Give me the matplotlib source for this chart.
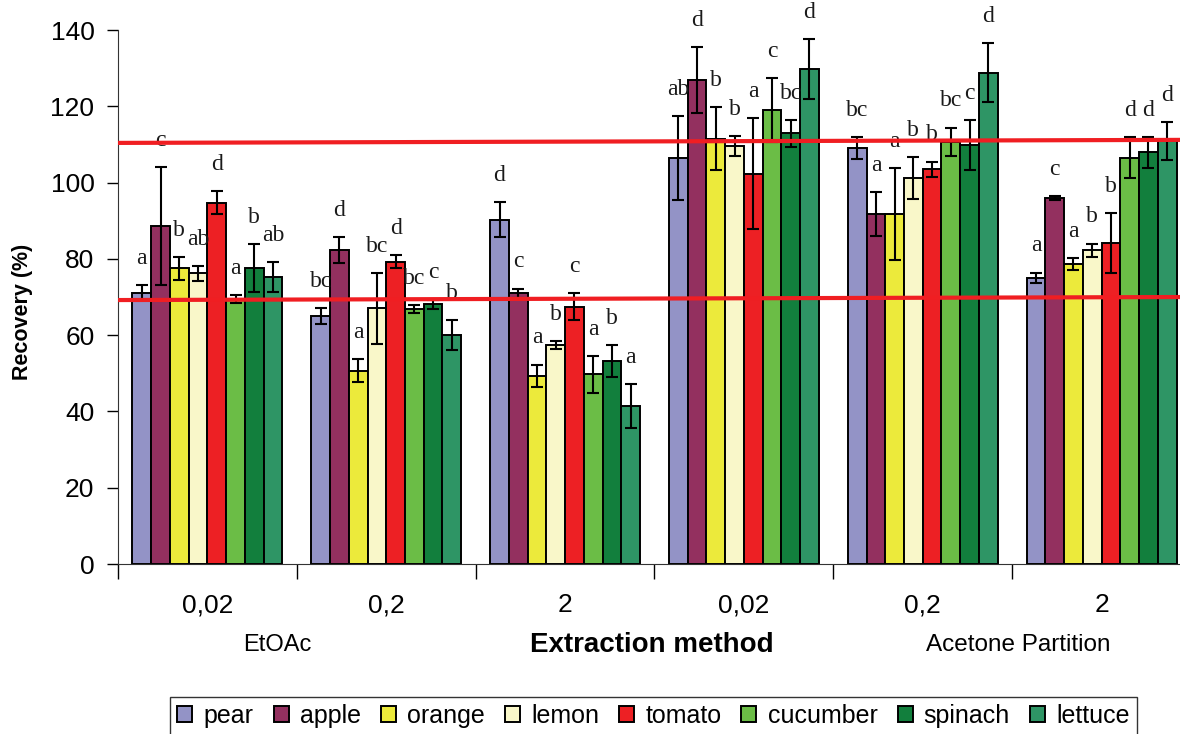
import matplotlib
matplotlib.use('Agg')
import matplotlib.pyplot as plt
from matplotlib.transforms import blended_transform_factory
from matplotlib.patches import Patch
import numpy as np

concentrations = ['0,02', '0,2', '2', '0,02', '0,2', '2']
methods = ['EtOAc', 'Extraction method', 'Acetone Partition']
samples = ['pear', 'apple', 'orange', 'lemon', 'tomato', 'cucumber', 'spinach', 'lettuce']

pear = [71.1, 65.0, 90.2, 106.5, 109.0, 75.1]
apple = [88.6, 82.3, 71.0, 126.9, 91.8, 95.9]
orange = [77.5, 50.7, 49.3, 111.5, 91.8, 78.6]
lemon = [76.2, 67.0, 57.4, 109.6, 101.1, 82.3]
tomato = [94.7, 79.3, 67.5, 102.3, 103.5, 84.1]
cucumber = [69.4, 66.9, 49.7, 119.0, 110.7, 106.5]
spinach = [77.5, 68.1, 53.2, 112.9, 109.9, 107.9]
lettuce = [75.2, 60.1, 41.4, 129.7, 128.8, 110.9]

pear_err = [2.0, 2.0, 4.6, 11.0, 2.9, 1.3]
apple_err = [15.4, 3.3, 1.2, 8.6, 5.8, 0.5]
orange_err = [3.0, 3.0, 3.0, 8.3, 12.0, 1.5]
lemon_err = [2.0, 9.3, 1.0, 2.6, 5.5, 1.7]
tomato_err = [3.0, 1.7, 3.5, 14.6, 2.0, 7.8]
cucumber_err = [1.0, 1.0, 4.8, 8.3, 3.7, 5.4]
spinach_err = [6.3, 1.2, 4.2, 3.5, 6.5, 4.0]
lettuce_err = [4.0, 3.9, 5.8, 7.9, 7.7, 4.9]

pear_sig = ['a', 'bc', 'd', 'ab', 'bc', 'a']
apple_sig = ['c', 'd', 'c', 'd', 'a', 'c']
orange_sig = ['b', 'a', 'a', 'b', 'a', 'a']
lemon_sig = ['ab', 'bc', 'b', 'b', 'b', 'b']
tomato_sig = ['d', 'd', 'c', 'a', 'b', 'b']
cucumber_sig = ['a', 'bc', 'a', 'c', 'bc', 'd']
spinach_sig = ['b', 'c', 'b', 'bc', 'c', 'd']
lettuce_sig = ['ab', 'b', 'a', 'd', 'd', 'd']

upper_limit = [110.4, 111.2]
lower_limit = [69.2, 70.0]

values = [pear, apple, orange, lemon, tomato, cucumber, spinach, lettuce]
errors = [pear_err, apple_err, orange_err, lemon_err, tomato_err, cucumber_err, spinach_err, lettuce_err]
sigs = [pear_sig, apple_sig, orange_sig, lemon_sig, tomato_sig, cucumber_sig, spinach_sig, lettuce_sig]
colors = ['#9393c6', '#93305f', '#ecea3b', '#f9f7c9', '#ed2024', '#6bbd46', '#127f3d', '#2e9565']

sans = ['Liberation Sans', 'DejaVu Sans']
serif = ['Liberation Serif', 'DejaVu Serif']

W, H = 1180, 734
fig = plt.figure(figsize=(W / 100, H / 100), dpi=100)
ax = fig.add_axes([118 / W, (H - 564) / H, (1191 - 118) / W, 534 / H])

x = np.arange(len(concentrations))
n = len(samples)
bw = 0.838 / n
for i in range(n):
    xi = x + (i - (n - 1) / 2) * bw
    ax.bar(xi, values[i], bw, color=colors[i], edgecolor='black', linewidth=1.4, zorder=2)
    ax.errorbar(xi, values[i], yerr=errors[i], fmt='none', ecolor='black',
                elinewidth=1.5, capsize=4.6, capthick=1.5, zorder=3)
    for j in range(len(x)):
        ax.text(xi[j], values[i][j] + errors[i][j] + 7.0, sigs[i][j], ha='center', va='center',
                fontsize=17, family=serif, color='#1a1a1a', zorder=4)

ax.plot([-0.5, 5.5], upper_limit, color='#f01e22', linewidth=3, zorder=5, solid_capstyle='butt')
ax.plot([-0.5, 5.5], lower_limit, color='#f01e22', linewidth=3, zorder=5, solid_capstyle='butt')

ax.set_xlim(-0.5, 5.5)
ax.set_ylim(0, 140)
ax.set_yticks(np.arange(0, 141, 20))
ax.tick_params(axis='y', direction='out', length=8, width=1, labelsize=19, pad=9)
for lab in ax.get_yticklabels():
    lab.set_family(sans)
ax.set_xticks(np.arange(-0.5, 5.6, 1.0))
ax.set_xticklabels([])
ax.tick_params(axis='x', direction='out', length=11, width=1)
for s in ['top', 'right']:
    ax.spines[s].set_visible(False)
ax.spines['left'].set_color('#333333')
ax.spines['bottom'].set_color('#333333')
ax.set_ylabel('Recovery (%)', fontsize=15.5, fontweight='bold', family=sans)
ax.yaxis.set_label_coords(-0.079, 0.472)

tr = blended_transform_factory(ax.transData, ax.transAxes)
for j, c in enumerate(concentrations):
    ax.text(x[j], -0.077, c, transform=tr, ha='center', va='center', fontsize=19, family=sans)
ax.text(0.389, -0.152, methods[0], transform=tr, ha='center', va='center', fontsize=17, family=sans)
ax.text(2.486, -0.152, methods[1], transform=tr, ha='center', va='center', fontsize=20,
        fontweight='bold', family=sans)
ax.text(4.533, -0.152, methods[2], transform=tr, ha='center', va='center', fontsize=17.5, family=sans)

handles = [Patch(facecolor=colors[i], edgecolor='black', linewidth=1.4) for i in range(n)]
leg = fig.legend(handles, samples, loc='center', bbox_to_anchor=(653.5 / W, 18 / H), ncol=n,
                 frameon=True, fancybox=False, edgecolor='black', handlelength=0.6, handleheight=0.6,
                 handletextpad=0.45, columnspacing=0.8, borderpad=0.3, borderaxespad=0,
                 prop={'family': sans, 'size': 18})
leg.get_frame().set_linewidth(1.0)

fig.savefig('out.png', dpi=100)
